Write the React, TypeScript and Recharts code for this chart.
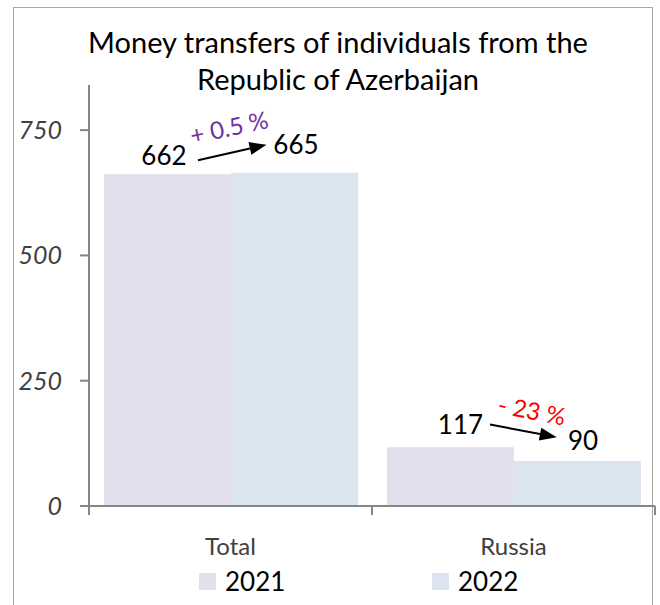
import React from "react";
import { BarChart, Bar, XAxis, YAxis, LabelList } from "recharts";

const categories = ["Total", "Russia"];
const values2021 = [662, 117];
const values2022 = [665, 90];
const changeLabels = ["+ 0.5 %", "- 23 %"];
const yTicks = [0, 250, 500, 750];

const FONT = "Lato, 'Open Sans', sans-serif";
const COLOR_2021 = "#E4DFEC";
const COLOR_2022 = "#DCE6F1";
const AXIS = "#868686";
const PLOT_LEFT = 89;
const PLOT_RIGHT = 655;

// hand-placed offsets of the annotations, relative to their bar (x, top)
const LABEL_21 = [
  { dx: 60, dy: -9 },
  { dx: 73.5, dy: -13.5 },
];
const LABEL_22 = [
  { dx: 65, dy: -18.5 },
  { dx: 69, dy: -11 },
];
const ARROWS = [
  { x1: -33, y1: -12.5, x2: 35.5, y2: -28 },
  { x1: -24, y1: -36.4, x2: 42.7, y2: -23.6 },
];
const CHANGE_POS = [
  { dx: -2, dy: -46, rot: -12, color: "#7030A0" },
  { dx: 18, dy: -51, rot: 11, color: "#FF0000" },
];

const data = categories.map((name, i) => ({
  name,
  y2021: values2021[i],
  y2022: values2022[i],
}));

function Label21(props: any) {
  const { x, y, index, value } = props;
  const o = LABEL_21[index];
  return (
    <text x={x + o.dx} y={y + o.dy} textAnchor="middle" fontSize={26} fontFamily={FONT} fill="#000">
      {value}
    </text>
  );
}

function Label22(props: any) {
  const { x, y, index, value } = props;
  const o = LABEL_22[index];
  const a = ARROWS[index];
  const c = CHANGE_POS[index];
  const sx = x + a.x1, sy = y + a.y1, ex = x + a.x2, ey = y + a.y2;
  const ang = Math.atan2(ey - sy, ex - sx);
  const len = 17, half = 6.5;
  const bx = ex - len * Math.cos(ang), by = ey - len * Math.sin(ang);
  const px = -Math.sin(ang) * half, py = Math.cos(ang) * half;
  const cx = x + c.dx, cy = y + c.dy;
  return (
    <g>
      <line x1={sx} y1={sy} x2={bx} y2={by} stroke="#000" strokeWidth={2} />
      <polygon points={`${ex},${ey} ${bx + px},${by + py} ${bx - px},${by - py}`} fill="#000" />
      <text x={x + o.dx} y={y + o.dy} textAnchor="middle" fontSize={26} fontFamily={FONT} fill="#000">
        {value}
      </text>
      <text
        x={cx}
        y={cy}
        textAnchor="middle"
        dominantBaseline="central"
        fontSize={24}
        fontFamily={FONT}
        fill={c.color}
        transform={`rotate(${c.rot} ${cx} ${cy})`}
      >
        {changeLabels[index]}
      </text>
    </g>
  );
}

function CategoryTick(props: any) {
  const { x, y, payload, index } = props;
  const half = (PLOT_RIGHT - PLOT_LEFT) / categories.length / 2;
  const axisY = 506;
  return (
    <g>
      <line x1={x - half} y1={axisY} x2={x - half} y2={axisY + 9} stroke={AXIS} strokeWidth={2} />
      {index === categories.length - 1 && (
        <line x1={x + half} y1={axisY} x2={x + half} y2={axisY + 9} stroke={AXIS} strokeWidth={2} />
      )}
      <text x={x} y={y + 41} textAnchor="middle" fontSize={24} fontFamily={FONT} fill="#404040">
        {payload.value}
      </text>
    </g>
  );
}

export default function App() {
  return (
    <div style={{ position: "absolute", left: 0, top: 0, width: 660, height: 605, background: "#fff", overflow: "hidden" }}>
      <div
        style={{
          position: "absolute",
          left: 13,
          top: 7,
          width: 640,
          height: 640,
          border: "1.5px solid #A6A6A6",
          boxSizing: "border-box",
        }}
      />
      <div
        style={{
          position: "absolute",
          left: 0,
          width: 676,
          top: 23,
          textAlign: "center",
          fontFamily: FONT,
          fontSize: 29,
          lineHeight: "37px",
          color: "#000",
        }}
      >
        Money transfers of individuals from the
        <br />
        Republic of Azerbaijan
      </div>
      <BarChart
        width={660}
        height={605}
        data={data}
        margin={{ top: 85, right: 5, bottom: 0, left: 0 }}
        barCategoryGap="5.3%"
        barGap={0}
        style={{ position: "absolute", left: 0, top: 0 }}
      >
        <YAxis
          width={89}
          domain={[0, 840]}
          ticks={yTicks}
          tickSize={9}
          tickMargin={18}
          axisLine={{ stroke: AXIS, strokeWidth: 2 }}
          tickLine={{ stroke: AXIS, strokeWidth: 2 }}
          tick={{ fontSize: 25, fontStyle: "italic", fontFamily: FONT, fill: "#404040" }}
        />
        <XAxis
          dataKey="name"
          height={99}
          axisLine={{ stroke: AXIS, strokeWidth: 2 }}
          tickLine={false}
          tick={<CategoryTick />}
          interval={0}
        />
        <Bar dataKey="y2021" fill={COLOR_2021} isAnimationActive={false}>
          <LabelList dataKey="y2021" content={<Label21 />} />
        </Bar>
        <Bar dataKey="y2022" fill={COLOR_2022} isAnimationActive={false}>
          <LabelList dataKey="y2022" content={<Label22 />} />
        </Bar>
      </BarChart>
      {[
        { label: "2021", color: COLOR_2021, left: 199 },
        { label: "2022", color: COLOR_2022, left: 432 },
      ].map((l) => (
        <div key={l.label} style={{ position: "absolute", left: l.left, top: 566, display: "flex", alignItems: "center" }}>
          <span style={{ display: "inline-block", width: 17, height: 17, background: l.color, marginRight: 9 }} />
          <span style={{ fontFamily: FONT, fontSize: 26, color: "#000", lineHeight: "30px" }}>{l.label}</span>
        </div>
      ))}
    </div>
  );
}
